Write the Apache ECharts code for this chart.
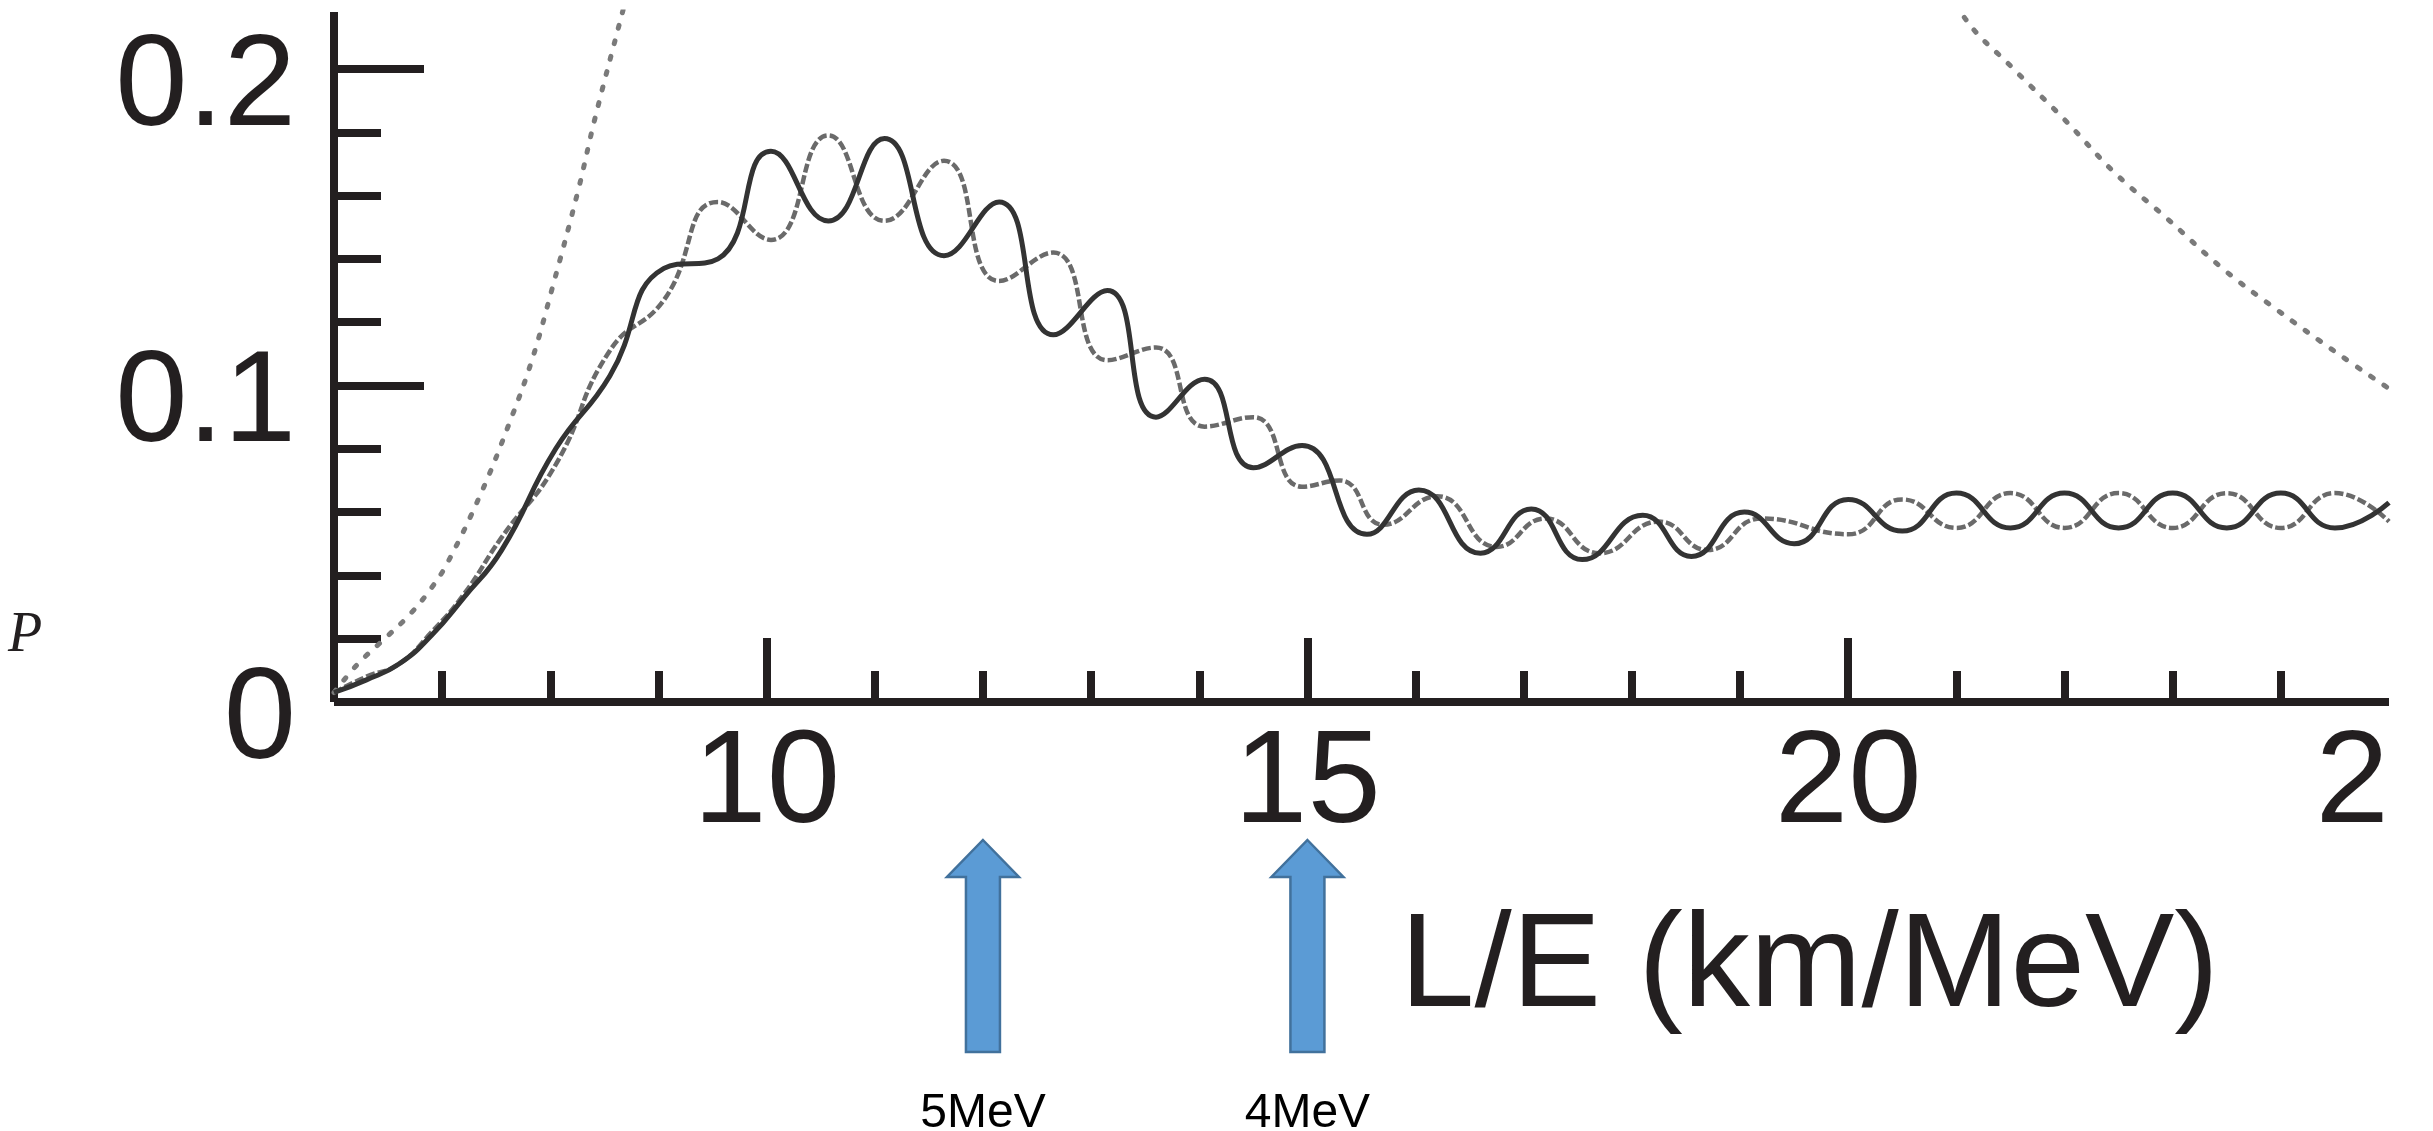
<!DOCTYPE html>
<html>
<head>
<meta charset="utf-8">
<title>P vs L/E</title>
<script src="https://cdn.jsdelivr.net/npm/echarts@6.0.0/dist/echarts.min.js"></script>
<style>
  html, body { margin: 0; padding: 0; background: #fff; }
  #page { position: relative; width: 2433px; height: 1131px; overflow: hidden; background: #fff; }
  #chart { position: absolute; left: 0; top: 0; width: 2391px; height: 1131px; }
</style>
</head>
<body>
<div id="page"><div id="chart"></div></div>
<script>
// axis ranges and ticks
const xRange = [6, 25]
const yRange = [0, 0.218]
const xMajorTicks = [10, 15, 20]
const xLabels = [10, 15, 20, 25]
const xMinorTicks = [7, 8, 9, 11, 12, 13, 14, 16, 17, 18, 19, 21, 22, 23, 24]
const yMajorTicks = [0.1, 0.2]
const yLabels = [0, 0.1, 0.2]
const yMinorTicks = [0.02, 0.04, 0.06, 0.08, 0.12, 0.14, 0.16, 0.18]

// solid oscillating curve [L/E, P]
const curveA = [
  [6.0, 0.003], [6.3, 0.007], [6.6, 0.012], [6.9, 0.021], [7.2, 0.033],
  [7.55, 0.048], [8.05, 0.080], [8.55, 0.103], [9.05, 0.137], [9.55, 0.140],
  [10.04, 0.174], [10.57, 0.152], [11.09, 0.178], [11.64, 0.141], [12.15, 0.158],
  [12.65, 0.116], [13.15, 0.130], [13.6, 0.090], [14.05, 0.102], [14.5, 0.074],
  [14.95, 0.081], [15.55, 0.053], [16.03, 0.067], [16.6, 0.047], [17.07, 0.061],
  [17.54, 0.045], [18.1, 0.059], [18.55, 0.046], [19.04, 0.060], [19.5, 0.050],
  [20.0, 0.064], [20.5, 0.054], [21.0, 0.066], [21.5, 0.055], [22.0, 0.066],
  [22.5, 0.055], [23.0, 0.066], [23.5, 0.055], [24.0, 0.066], [24.5, 0.055],
  [25.0, 0.063]
]

// second oscillating curve
const curveB = [
  [6.0, 0.003], [6.3, 0.008], [6.6, 0.012], [6.9, 0.022], [7.2, 0.034],
  [7.55, 0.052], [8.05, 0.075], [8.55, 0.111], [9.05, 0.127], [9.55, 0.158],
  [10.04, 0.146], [10.57, 0.179], [11.09, 0.152], [11.64, 0.171], [12.15, 0.133],
  [12.65, 0.142], [13.15, 0.108], [13.6, 0.112], [14.05, 0.087], [14.5, 0.090],
  [14.95, 0.068], [15.3, 0.070], [15.7, 0.056], [16.2, 0.065], [16.75, 0.049],
  [17.2, 0.058], [17.7, 0.047], [18.25, 0.057], [18.7, 0.048], [19.2, 0.058],
  [20.0, 0.053], [20.5, 0.064], [21.0, 0.055], [21.5, 0.066], [22.0, 0.055],
  [22.5, 0.066], [23.0, 0.055], [23.5, 0.066], [24.0, 0.055], [24.5, 0.066],
  [25.0, 0.057]
]

// steep dotted curve on the left
const dottedLeft = [
  [6.0, 0.003], [6.22, 0.012], [6.5, 0.021], [6.71, 0.028], [6.9, 0.036],
  [7.05, 0.044], [7.36, 0.066], [7.62, 0.088], [7.83, 0.108], [8.02, 0.131],
  [8.26, 0.162], [8.41, 0.184], [8.66, 0.217], [8.8, 0.235]
]

// dotted curve coming down on the right
const dottedRight = [
  [20.85, 0.235], [21.06, 0.217], [21.53, 0.200], [22.0, 0.184], [22.47, 0.167],
  [22.94, 0.153], [23.46, 0.137], [23.96, 0.124], [24.53, 0.110], [25.0, 0.099]
]

// energy markers below the axis
const arrowAt = [12, 15]
const arrowLabels = ['5MeV', '4MeV']

const INK = '#231f20'
const labelFont = 'Liberation Sans, Arial, sans-serif'

function baseAxis(range) {
  return {
    type: 'value',
    min: range[0],
    max: range[1],
    splitLine: { show: false },
    axisLine: { show: true, lineStyle: { color: INK, width: 8, cap: 'butt' } },
  }
}

const chart = echarts.init(document.getElementById('chart'), null, { renderer: 'canvas' })

chart.setOption({
  animation: false,
  backgroundColor: '#fff',
  grid: { left: 334, right: 2, top: 12, bottom: 429, containLabel: false, outerBoundsMode: 'none' },
  xAxis: [
    {
      ...baseAxis(xRange),
      position: 'bottom',
      axisTick: { inside: true, length: 31, customValues: xMinorTicks, lineStyle: { color: INK, width: 8 } },
      axisLabel: { show: false },
    },
    {
      ...baseAxis(xRange),
      position: 'bottom',
      axisTick: { inside: true, length: 64, customValues: xMajorTicks, lineStyle: { color: INK, width: 8 } },
      axisLabel: {
        show: true,
        customValues: xLabels,
        margin: 18,
        color: INK,
        fontSize: 132,
        fontFamily: labelFont,
      },
    },
  ],
  yAxis: [
    {
      ...baseAxis(yRange),
      position: 'left',
      axisTick: { inside: true, length: 47, customValues: yMinorTicks, lineStyle: { color: INK, width: 8 } },
      axisLabel: { show: false },
    },
    {
      ...baseAxis(yRange),
      position: 'left',
      axisTick: { inside: true, length: 90, customValues: yMajorTicks, lineStyle: { color: INK, width: 8 } },
      axisLabel: {
        show: true,
        customValues: yLabels,
        margin: 38,
        color: INK,
        fontSize: 130,
        fontFamily: labelFont,
        verticalAlign: 'top',
        lineHeight: 40,
        formatter: v => String(v),
      },
    },
  ],
  series: [
    {
      name: 'dottedLeft',
      type: 'line',
      data: dottedLeft,
      smooth: 0.4,
      symbol: 'none',
      lineStyle: { color: '#7a7a7a', width: 5, type: [3, 13], cap: 'round' },
    },
    {
      name: 'dottedRight',
      type: 'line',
      data: dottedRight,
      smooth: 0.4,
      symbol: 'none',
      lineStyle: { color: '#7a7a7a', width: 5, type: [3, 13], cap: 'round' },
    },
    {
      name: 'curveB',
      type: 'line',
      data: curveB,
      smooth: 0.5,
      symbol: 'none',
      lineStyle: { color: '#6a6a6a', width: 4.5, type: [9, 3] },
    },
    {
      name: 'curveA',
      type: 'line',
      data: curveA,
      smooth: 0.5,
      symbol: 'none',
      lineStyle: { color: '#333333', width: 5 },
    },
  ],
})

// arrows and texts placed from the x scale
const graphics = []
arrowAt.forEach((v, i) => {
  const x = chart.convertToPixel({ xAxisIndex: 0 }, v)
  graphics.push({
    type: 'polygon',
    shape: {
      points: [
        [x, 840], [x + 36, 877], [x + 17, 877], [x + 17, 1052],
        [x - 17, 1052], [x - 17, 877], [x - 36, 877],
      ],
    },
    style: { fill: '#5b9bd5', stroke: '#41719c', lineWidth: 2.5 },
  })
  graphics.push({
    type: 'text',
    x: x,
    y: 1090,
    style: {
      text: arrowLabels[i],
      fill: '#000',
      font: '48px ' + labelFont,
      textAlign: 'center',
      textVerticalAlign: 'top',
    },
  })
})

graphics.push({
  type: 'text',
  x: 1400,
  y: 902,
  style: {
    text: 'L/E (km/MeV)',
    fill: INK,
    font: '134px ' + labelFont,
    textAlign: 'left',
    textVerticalAlign: 'top',
  },
})

graphics.push({
  type: 'text',
  x: 8,
  y: 608,
  style: {
    text: 'P',
    fill: INK,
    font: 'italic 56px Liberation Serif, Times New Roman, serif',
    textAlign: 'left',
    textVerticalAlign: 'top',
  },
})

chart.setOption({ graphic: graphics })
</script>
</body>
</html>
